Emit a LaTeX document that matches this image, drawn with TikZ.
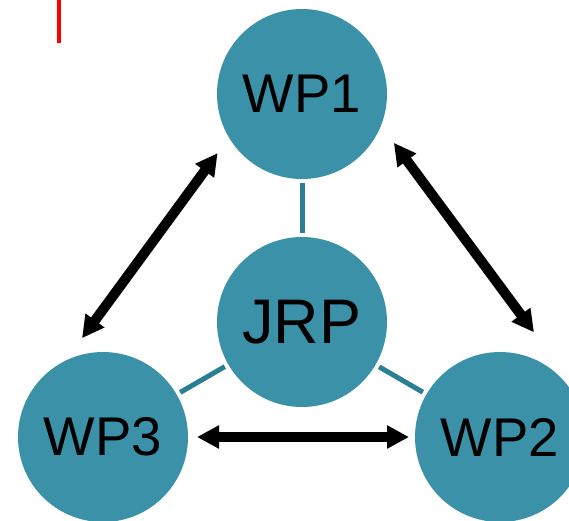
\documentclass[tikz,border=0pt]{standalone}
\usepackage{fontspec}
\setmainfont{Liberation Sans}
\usetikzlibrary{arrows.meta,calc}
\definecolor{wpteal}{HTML}{3A91A8}
\definecolor{linkteal}{HTML}{2B7F94}
\tikzset{
  wp/.style={circle, fill=wpteal, minimum size=170pt, inner sep=0pt,
             font=\fontsize{54.5}{60}\selectfont, text=black},
  hub/.style={wp, font=\fontsize{63}{68}\selectfont},
  link/.style={draw=linkteal, line width=5pt, shorten <=4pt, shorten >=4pt},
  flow/.style={line width=10pt, {Triangle[width=22pt,length=22pt]}-{Triangle[width=22pt,length=22pt]}}
}
\begin{document}
\begin{tikzpicture}[x=1pt,y=-1pt]
  \useasboundingbox (0,0) rectangle (569,520);
  \clip (0,0) rectangle (569,520);

  % red marker in the upper left corner
  \draw[red, line width=4pt] (58.5,0) -- (58.5,43);

  % work packages and the joint research project
  \node[wp]  (wp1) at (302,94)  {WP1};
  \node[hub] (jrp) at (302,322) {JRP};
  \node[wp]  (wp3) at (103,437) {WP3};
  \node[wp]  (wp2) at (500,437) {WP2};

  % thin links to the hub
  \draw[link] (wp1) -- (jrp);
  \draw[link] (jrp) -- (wp3);
  \draw[link] (jrp) -- (wp2);

  % arrow end points around the outer circles
  \coordinate (a13) at ($(wp1.center)+(215:103pt)$);
  \coordinate (a31) at ($(wp3.center)+(102:101pt)$);
  \coordinate (a12) at ($(wp1.center)+(-28:104pt)$);
  \coordinate (a21) at ($(wp2.center)+(72:110pt)$);
  \coordinate (a32) at ($(wp3.center)+(0:94pt)$);
  \coordinate (a23) at ($(wp2.center)+(180:91pt)$);

  % exchanges between the work packages
  \draw[flow] (a31) -- (a13);
  \draw[flow] (a12) -- (a21);
  \draw[flow] (a32) -- (a23);
\end{tikzpicture}
\end{document}
